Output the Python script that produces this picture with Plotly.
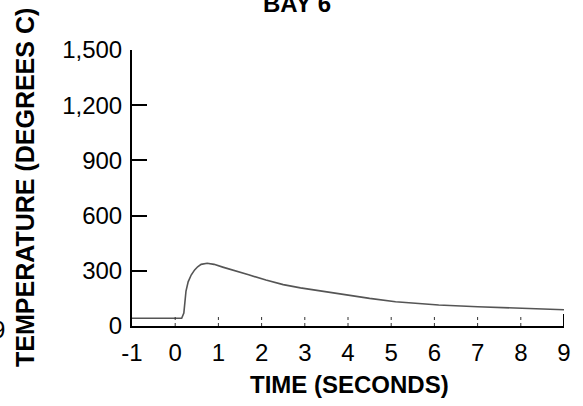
import plotly.graph_objects as go

# Bay 6 thermocouple trace
time_s = [-1.0, -0.5, 0.0, 0.15, 0.2, 0.25, 0.3, 0.37, 0.45, 0.52, 0.6, 0.74, 0.9,
          1.1, 1.35, 1.7, 2.1, 2.5, 2.9, 3.5, 4.0, 4.5, 5.1, 5.6, 6.1, 7.0, 8.0, 8.5, 9.0]
temp_c = [42, 40, 42, 42, 70, 190, 240, 277, 305, 322, 335, 341, 335,
          320, 304, 278, 250, 225, 207, 185, 168, 150, 132, 122, 114, 105, 97, 93, 88]

x_ticks = [-1, 0, 1, 2, 3, 4, 5, 6, 7, 8, 9]
y_ticks = [0, 300, 600, 900, 1200, 1500]
y_tick_text = ["0", "300", "600", "900", "1,200", "1,500"]

FONT = "Liberation Sans, Arial, Helvetica, sans-serif"
W, H = 583, 406
L, R, T, B = 132, 15, 50, 80
plot_w = W - L - R
plot_h = H - T - B

fig = go.Figure()
fig.add_trace(go.Scatter(
    x=time_s, y=temp_c, mode="lines",
    line=dict(color="#555555", width=1.6),
    hoverinfo="skip", showlegend=False,
))

# dotted inside ticks along the time axis, solid at the right end
tick_len = 12 / plot_h
for t in x_ticks[1:]:
    last = t == x_ticks[-1]
    fig.add_shape(type="line", xref="x", yref="paper",
                  x0=t, x1=t, y0=0, y1=tick_len,
                  line=dict(color="black" if last else "#333",
                            width=2 if last else 1,
                            dash="solid" if last else "dot"))

fig.update_xaxes(
    range=[-1, 9], tickvals=x_ticks, ticktext=[str(v) for v in x_ticks],
    showgrid=False, zeroline=False, showline=True, linecolor="black", linewidth=2,
    ticks="", ticklabelstandoff=4, tickfont=dict(family=FONT, size=24, color="black"),
)
fig.update_yaxes(
    range=[0, 1500], tickvals=y_ticks, ticktext=y_tick_text,
    showgrid=False, zeroline=False, showline=True, linecolor="black", linewidth=2,
    ticks="inside", ticklen=15, tickwidth=2, tickcolor="black", ticklabelstandoff=3,
    tickfont=dict(family=FONT, size=24, color="black"),
)

def px_x(px):
    return (px - L) / plot_w

def px_y(py):
    return (H - B - py) / plot_h

fig.add_annotation(text="<b>BAY 6</b>", xref="paper", yref="paper",
                   x=px_x(299), y=px_y(4), xanchor="center", yanchor="middle",
                   showarrow=False, font=dict(family=FONT, size=24, color="black"))
fig.add_annotation(text="<b>TEMPERATURE (DEGREES C)</b>", xref="paper", yref="paper",
                   x=px_x(24), y=px_y(187), xanchor="center", yanchor="middle", textangle=-90,
                   showarrow=False, font=dict(family=FONT, size=25, color="black"))
fig.add_annotation(text="<b>TIME (SECONDS)</b>", xref="paper", yref="paper",
                   x=px_x(352), y=px_y(384), xanchor="center", yanchor="middle",
                   showarrow=False, font=dict(family=FONT, size=24, color="black"))
fig.add_annotation(text="9", xref="paper", yref="paper",
                   x=px_x(6), y=px_y(329), xanchor="right", yanchor="middle",
                   showarrow=False, font=dict(family=FONT, size=24, color="black"))

fig.update_layout(
    width=W, height=H,
    margin=dict(l=L, r=R, t=T, b=B),
    paper_bgcolor="white", plot_bgcolor="white",
)

fig.write_html("out.html")
